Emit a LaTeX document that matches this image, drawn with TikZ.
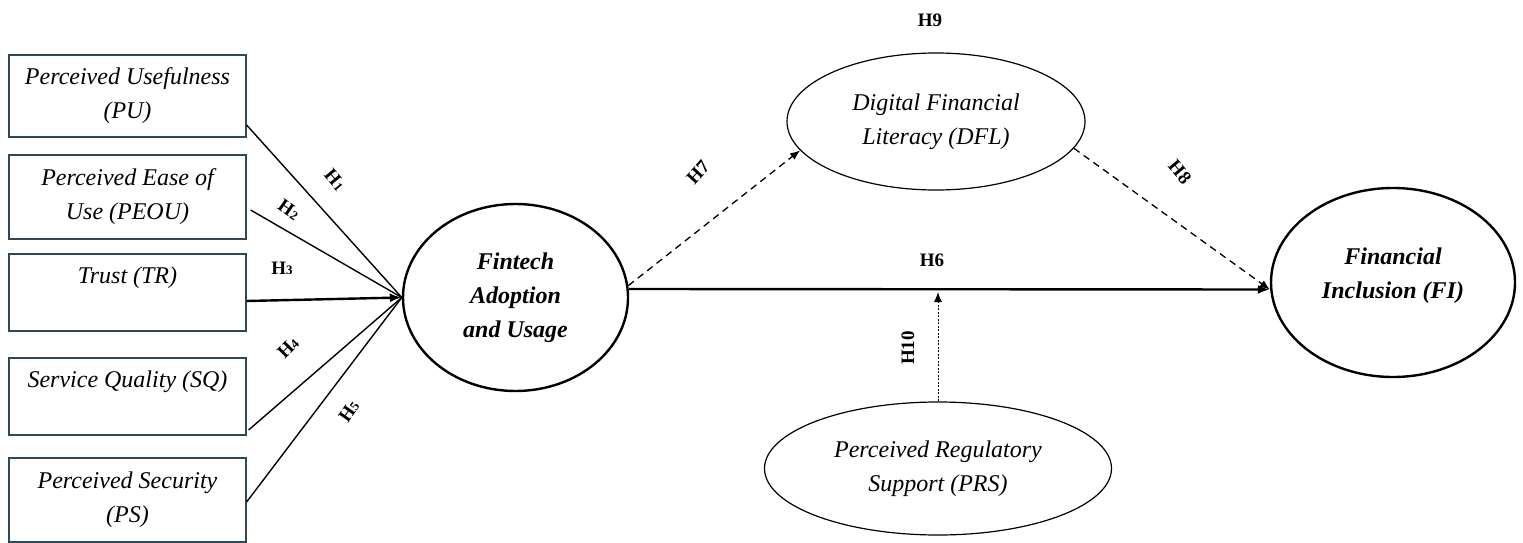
\documentclass[tikz,border=0pt]{standalone}
\usepackage{fontspec}
\setmainfont{Liberation Serif}
\usetikzlibrary{arrows.meta,shapes.geometric}
\definecolor{boxc}{RGB}{47,72,88}
\newcommand{\hsub}[1]{H{\fontsize{13}{13}\selectfont #1}}
\begin{document}
\begin{tikzpicture}[x=1pt,y=-1pt,
  every node/.style={inner sep=0pt},
  txt/.style={font=\fontsize{24}{34}\selectfont\itshape, align=center},
  boldtxt/.style={font=\fontsize{24}{34}\selectfont\bfseries\itshape, align=center},
  varbox/.style={txt, draw=boxc, line width=1.2pt, rectangle, minimum width=237pt},
  thinell/.style={txt, draw=black, line width=1.2pt, ellipse},
  thickell/.style={boldtxt, draw=black, line width=2.4pt, ellipse},
  hlab/.style={font=\fontsize{19}{19}\selectfont\bfseries},
  thinline/.style={line width=1.4pt, draw=black},
  thickline/.style={line width=2.4pt, draw=black},
  dashline/.style={line width=1.3pt, dash pattern=on 7pt off 5pt},
  dotline/.style={line width=1pt, dash pattern=on 2pt off 1.5pt},
  bigtip/.style={-{Latex[length=12pt,width=9pt]}},
  smalltip/.style={-{Latex[length=10pt,width=8pt]}}
]
\useasboundingbox (0,0) rectangle (1523,543);

% boxes
\node[varbox, minimum height=82pt] (pu) at (127.5,96) {Perceived Usefulness\\(PU)};
\node[varbox, minimum height=84pt] (peou) at (127.5,197) {Perceived Ease of\\Use (PEOU)};
\node[varbox, minimum height=77pt] (tr) at (127.5,292.5) {Trust (TR)\\ \mbox{}};
\node[varbox, minimum height=77pt] (sq) at (127.5,396.5) {Service Quality (SQ)\\ \mbox{}};
\node[varbox, minimum height=84pt] (ps) at (127.5,500) {Perceived Security\\(PS)};

% ellipses
\node[thickell, minimum width=225pt, minimum height=187pt] (fa) at (515.5,297.5) {Fintech\\Adoption\\and Usage};
\node[thinell, minimum width=298pt, minimum height=137pt] (dfl) at (936,121.5) {Digital Financial\\Literacy (DFL)};
\node[thickell, minimum width=244pt, minimum height=189pt] (fi) at (1393,282.5) {Financial\\Inclusion (FI)\\[-16pt]};
\node[thinell, minimum width=347pt, minimum height=133pt] (prs) at (938,468.5) {Perceived Regulatory\\Support (PRS)};

% connectors from boxes
\draw[thinline] ([yshift=-29pt]pu.east) -- (fa.west);
\draw[thinline] ([shift={(4pt,-13pt)}]peou.east) -- (fa.west);
\draw[thickline, bigtip] ([yshift=-8.5pt]tr.east) -- (fa.west);
\draw[thinline] ([shift={(2pt,-33.5pt)}]sq.east) -- (fa.west);
\draw[thinline] ([yshift=-2pt]ps.east) -- (fa.west);

% main paths
\draw[thickline, bigtip] ([yshift=8.5pt]fa.east) -- ([yshift=-7pt]fi.west);
\draw[dashline, smalltip] (fa.6) -- (dfl.192);
\draw[dashline, smalltip] (dfl.-11) -- ([yshift=-7pt]fi.west);
\coordinate (h10tip) at (938,292);
\draw[dotline, smalltip] (prs.north) -- (h10tip);

% labels
\node[hlab, rotate=-50] (l1) at (335,180) {\hsub{1}};
\node[hlab, rotate=-35] (l2) at (289,210) {\hsub{2}};
\node[hlab] (l3) at (282,268) {\hsub{3}};
\node[hlab, rotate=45] (l4) at (288,348) {\hsub{4}};
\node[hlab, rotate=55] (l5) at (349,411) {\hsub{5}};
\node[hlab] (l6) at (932,260) {H6};
\node[hlab, rotate=48] (l7) at (698,172) {H7};
\node[hlab, rotate=-50] (l8) at (1180,172) {H8};
\node[hlab] (l9) at (930,20) {H9};
\node[hlab, rotate=90] (l10) at (908,348) {H10};
\end{tikzpicture}
\end{document}
